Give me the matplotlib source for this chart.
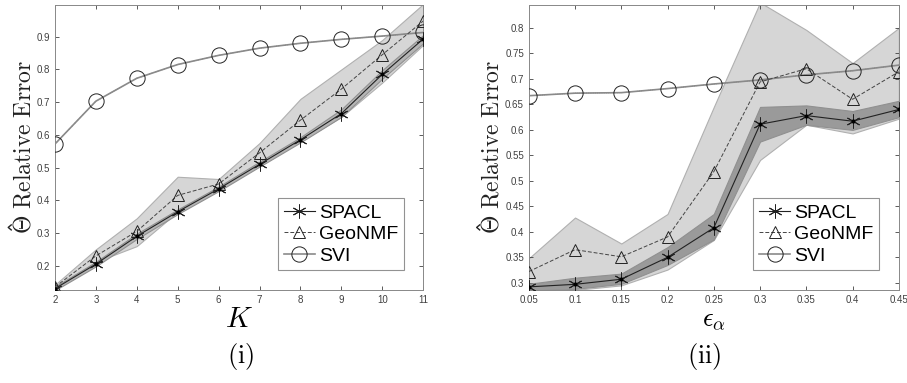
import numpy as np
import matplotlib
matplotlib.use("Agg")
import matplotlib.pyplot as plt
from matplotlib.lines import Line2D

plt.rcParams['mathtext.fontset'] = 'cm'
plt.rcParams['font.family'] = ['Liberation Sans', 'DejaVu Sans']

# (i) error vs K
k_vals = [2, 3, 4, 5, 6, 7, 8, 9, 10, 11]
spacl_k = [0.130, 0.205, 0.290, 0.365, 0.435, 0.510, 0.585, 0.665, 0.785, 0.893]
spacl_k_lo = [0.125, 0.198, 0.282, 0.358, 0.428, 0.503, 0.577, 0.655, 0.772, 0.880]
spacl_k_hi = [0.136, 0.212, 0.298, 0.372, 0.442, 0.518, 0.593, 0.678, 0.798, 0.905]
geo_k = [0.135, 0.230, 0.305, 0.415, 0.450, 0.545, 0.645, 0.740, 0.845, 0.948]
geo_k_lo = [0.128, 0.212, 0.260, 0.365, 0.430, 0.510, 0.580, 0.655, 0.760, 0.875]
geo_k_hi = [0.142, 0.250, 0.345, 0.472, 0.465, 0.575, 0.710, 0.800, 0.890, 1.000]
svi_k = [0.572, 0.703, 0.773, 0.815, 0.843, 0.865, 0.880, 0.892, 0.902, 0.913]

# (ii) error vs epsilon_alpha
eps_vals = [0.05, 0.10, 0.15, 0.20, 0.25, 0.30, 0.35, 0.40, 0.45]
eps_ticks = ['0.05', '0.1', '0.15', '0.2', '0.25', '0.3', '0.35', '0.4', '0.45']
spacl_e = [0.292, 0.297, 0.307, 0.350, 0.408, 0.611, 0.628, 0.617, 0.640]
spacl_e_lo = [0.285, 0.288, 0.298, 0.335, 0.385, 0.577, 0.610, 0.600, 0.625]
spacl_e_hi = [0.298, 0.310, 0.318, 0.370, 0.435, 0.645, 0.648, 0.637, 0.657]
geo_e = [0.322, 0.365, 0.351, 0.390, 0.518, 0.694, 0.720, 0.660, 0.714]
geo_e_lo = [0.280, 0.286, 0.295, 0.326, 0.384, 0.541, 0.610, 0.593, 0.622]
geo_e_hi = [0.348, 0.428, 0.377, 0.435, 0.645, 0.850, 0.796, 0.731, 0.800]
svi_e = [0.667, 0.672, 0.673, 0.681, 0.690, 0.698, 0.708, 0.716, 0.727]

fig = plt.figure(figsize=(9.07, 3.83), dpi=100)
ax1 = fig.add_axes([0.0606, 0.243, 0.406, 0.744])
ax2 = fig.add_axes([0.583, 0.243, 0.408, 0.744])

dark = '#222222'
asterisk = (6, 2, 0)


def draw(ax, x, sp, sp_lo, sp_hi, ge, ge_lo, ge_hi, sv, sp_band):
    ax.fill_between(x, ge_lo, ge_hi, color='#d6d6d6', lw=0.8, edgecolor='#b0b0b0', zorder=1)
    ax.fill_between(x, sp_lo, sp_hi, color=sp_band, lw=0.8, edgecolor='#909090', zorder=2)
    ax.plot(x, sp, '-', color=dark, lw=0.8, marker=asterisk, markersize=10,
            markeredgecolor=dark, markeredgewidth=0.7, label='SPACL', zorder=4)
    ax.plot(x, sp, 'o', color='black', markersize=2, zorder=5)
    ax.plot(x, ge, '--', color='#444444', lw=0.7, marker='^', markeredgecolor=dark,
            markersize=9, markerfacecolor='none', markeredgewidth=0.7,
            label='GeoNMF', zorder=4, dashes=(4, 2))
    ax.plot(x, sv, ':', color='#555555', lw=0.6, zorder=3)
    ax.plot(x, sv, '-', color='#8a8a8a', lw=1.2, marker='o', markeredgecolor=dark,
            label='SVI', zorder=3, markersize=11, markerfacecolor='none', markeredgewidth=0.7)
    ax.tick_params(direction='in', labelsize=7, colors='#404040', top=True, right=True,
                   length=3, width=0.6)
    for s in ax.spines.values():
        s.set_color('#888888')
        s.set_linewidth(0.7)
    # the hat is added separately below (rotated mathtext puts accents off-centre)
    ax.set_ylabel(r'$\mathbf{\Theta}\ \mathrm{Relative\ Error}$', fontsize=17,
                  labelpad=1, color='#222222')
    leg = ax.legend(loc='lower right', fontsize=14, frameon=True, fancybox=False,
                    borderpad=0.3, handlelength=1.6, handletextpad=0.2, labelspacing=0.2,
                    borderaxespad=1.0)
    leg.get_frame().set_edgecolor('#777777')
    leg.get_frame().set_linewidth(0.8)


draw(ax1, k_vals, spacl_k, spacl_k_lo, spacl_k_hi, geo_k, geo_k_lo, geo_k_hi, svi_k, '#b5b5b5')
ax1.set_xlim(2, 11)
ax1.set_ylim(0.126, 0.997)
ax1.set_xticks(k_vals)
ax1.set_yticks([0.2, 0.3, 0.4, 0.5, 0.6, 0.7, 0.8, 0.9])
ax1.set_xlabel(r'$K$', fontsize=21, labelpad=0)

draw(ax2, eps_vals, spacl_e, spacl_e_lo, spacl_e_hi, geo_e, geo_e_lo, geo_e_hi, svi_e, '#9a9a9a')
ax2.set_xlim(0.05, 0.45)
ax2.set_ylim(0.286, 0.845)
ax2.set_xticks(eps_vals)
ax2.set_xticklabels(eps_ticks)
ax2.set_yticks([0.3, 0.35, 0.4, 0.45, 0.5, 0.55, 0.6, 0.65, 0.7, 0.75, 0.8])
ax2.set_yticklabels(['0.3', '0.35', '0.4', '0.45', '0.5', '0.55', '0.6', '0.65', '0.7', '0.75', '0.8'])
ax2.set_xlabel(r'$\epsilon_\alpha$', fontsize=19, labelpad=2)

fig.text(0.265, 0.07, r'$(\mathrm{i})$', ha='center', va='center', fontsize=19)
fig.text(0.777, 0.07, r'$(\mathrm{ii})$', ha='center', va='center', fontsize=19)

# draw a small caret as the hat over the bold Theta of each y label
fig.canvas.draw()
for ax in (ax1, ax2):
    bb = ax.yaxis.label.get_window_extent()
    xv = bb.x0 - 5
    yc = bb.y0 + 7
    fig.add_artist(Line2D([xv + 3, xv, xv + 3], [yc - 2.5, yc, yc + 2.5],
                          transform=None, color='#222222', lw=1.0))

fig.savefig('out.png', dpi=100)
